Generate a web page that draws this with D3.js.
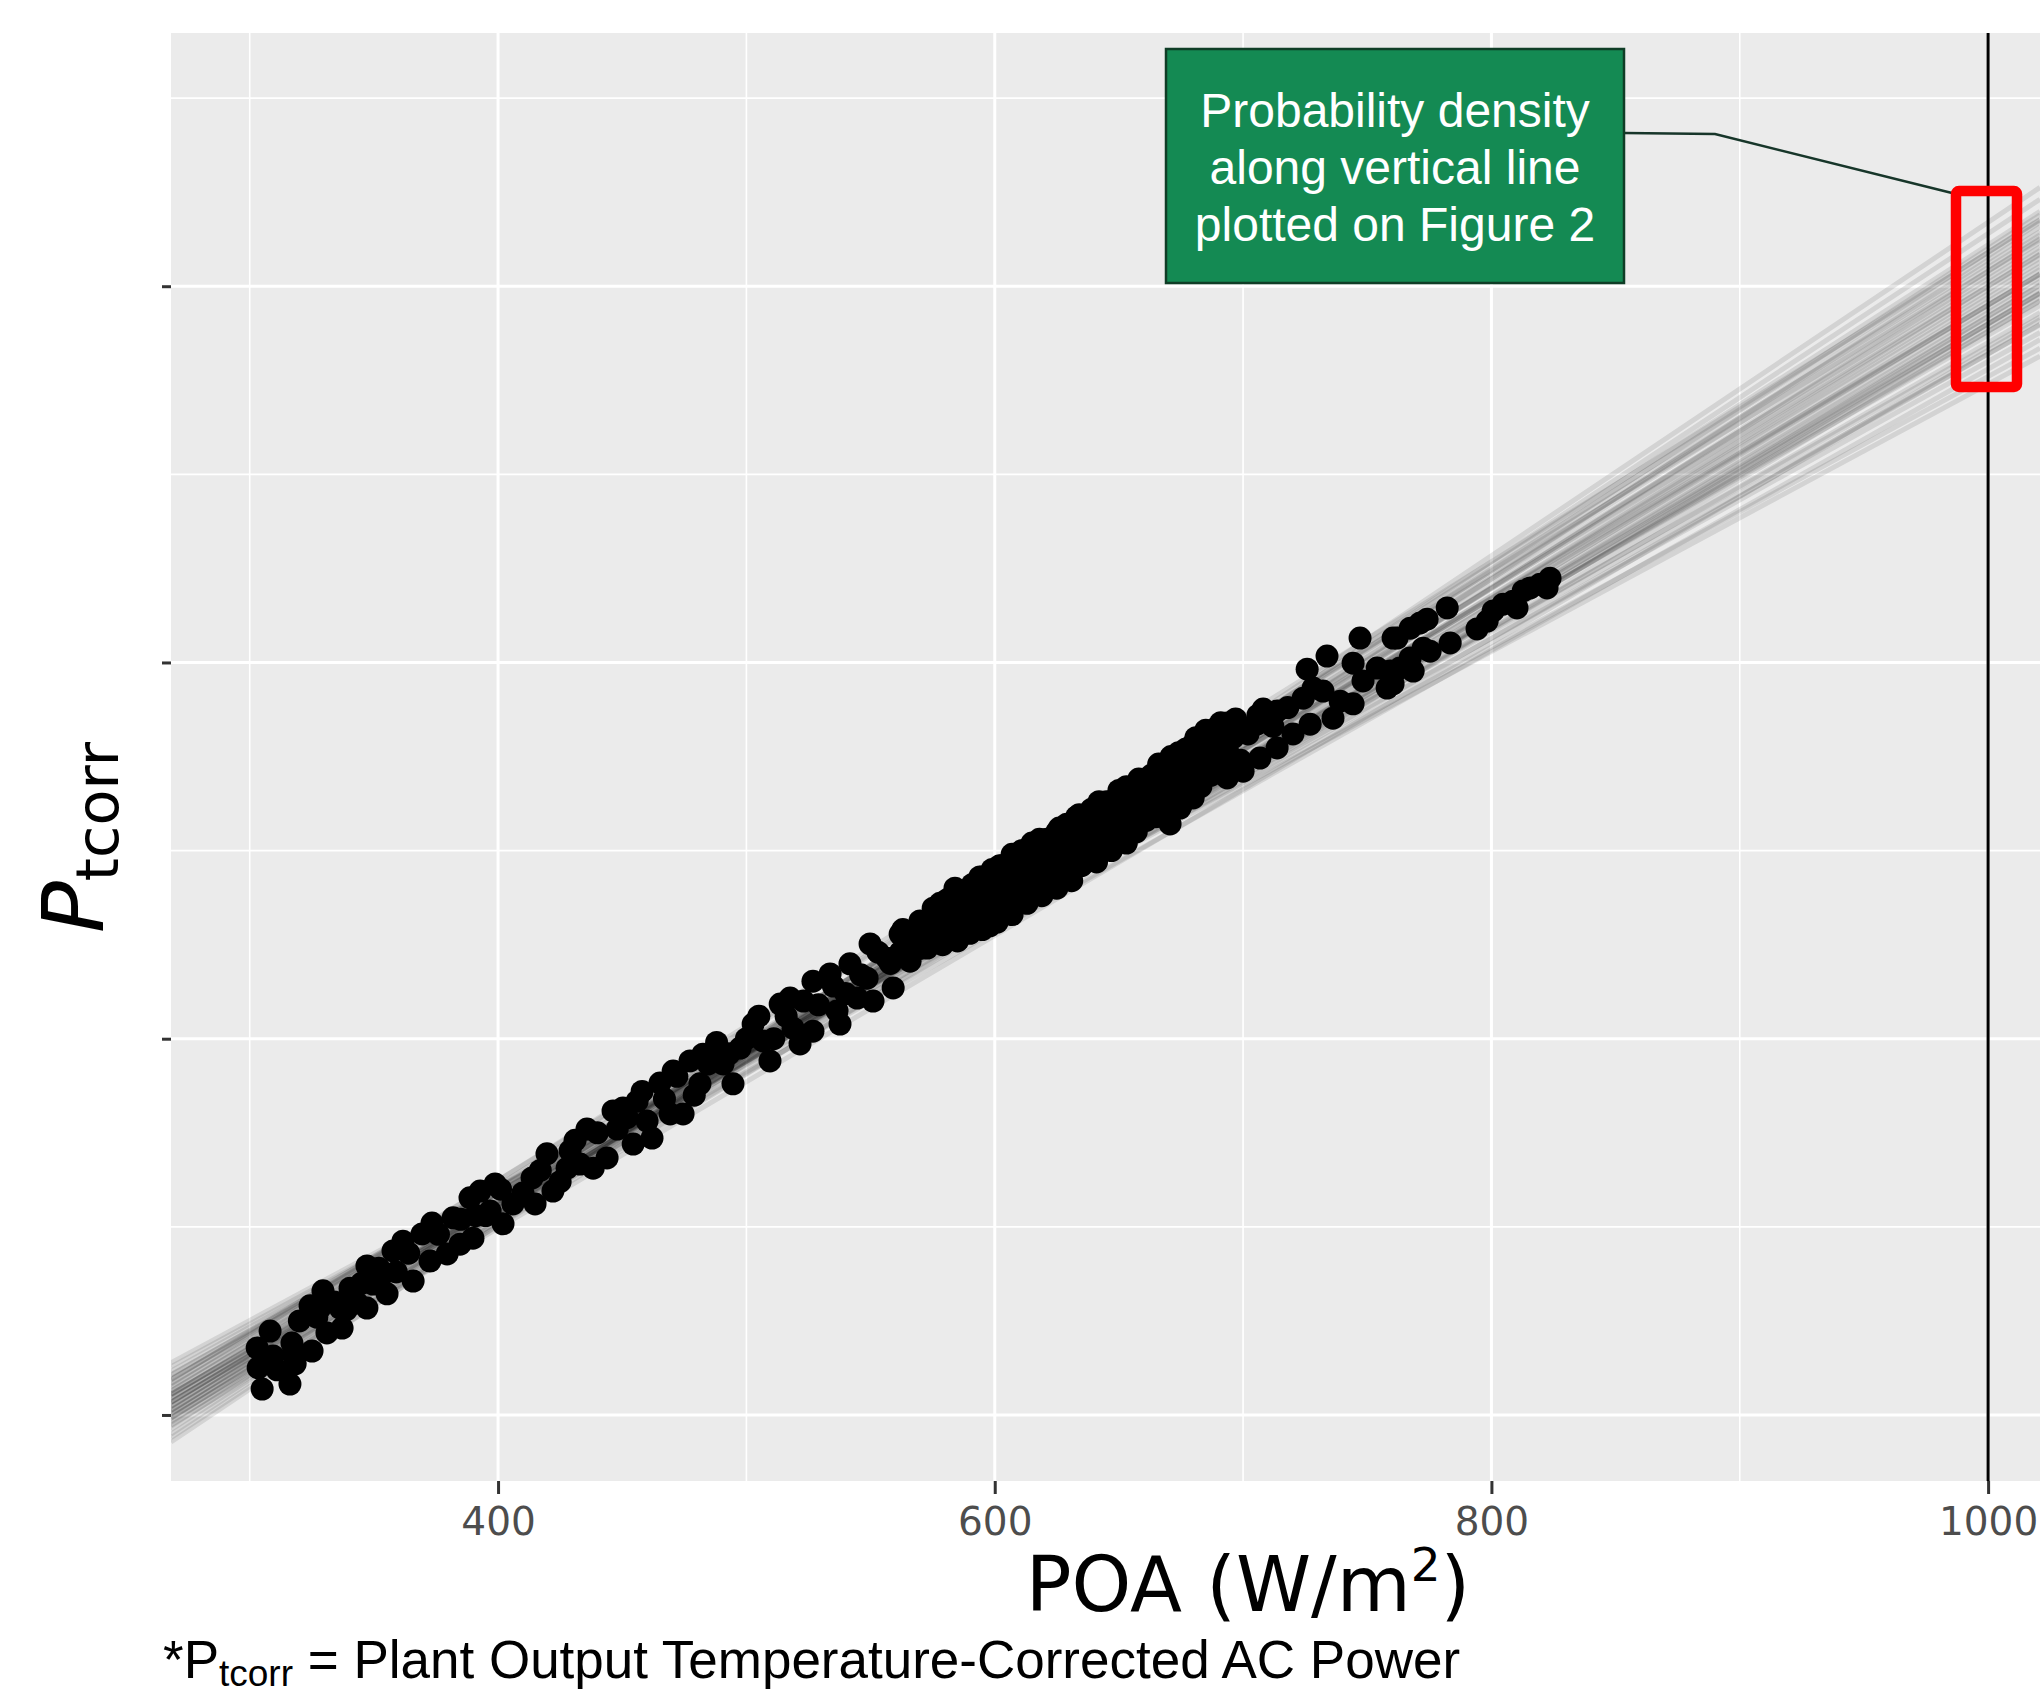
<!DOCTYPE html>
<html lang="en">
<head>
    <meta charset="utf-8">
    <title>Ptcorr vs POA</title>
    <script type="text/javascript" src="https://cdn.jsdelivr.net/npm/d3@7/dist/d3.min.js"></script>
    <style>
        body { margin: 0; background: #fff; }
    </style>
</head>
<body>
<script type="text/javascript">
    // observed points (POA in W/m2, temperature-corrected AC power, arbitrary units)
    var poaValues = [
        305.0, 303.4, 303.0, 308.2, 309.4, 317.0, 318.3, 316.2, 325.1, 324.3, 329.5, 331.1, 337.2, 340.4, 347.2,
        343.2, 349.7, 355.3, 357.7, 361.7, 365.8, 369.4, 373.4, 372.6, 379.5, 381.9, 384.7, 388.7, 389.9, 392.8,
        336.4, 347.2, 352.5, 328.3, 317.4,
        311, 320, 327, 334, 339, 345, 352, 359, 364, 376, 385, 391,
        398.8, 396.8, 402.0, 406.0, 413.7, 414.9, 419.7, 422.1, 427.8, 429.0, 435.8, 433.0, 438.3, 443.9, 446.3,
        450.3, 456.0, 454.4, 460.0, 462.0, 465.2, 470.5, 469.3, 474.5, 477.3, 482.5, 481.3, 484.6,
        395, 401, 410, 417, 425, 431, 440, 448, 452, 458, 467, 472, 479, 488, 493,
        500, 505, 511, 516, 523, 529, 535, 540, 546, 553, 558, 563, 567, 573, 576,
        486.6, 490.6, 494.6, 497.5, 502.7, 506.7, 509.5, 513.6, 517.6, 518.8, 521.6, 526.8, 526.8, 533.7, 536.5,
        537.7, 541.7, 544.6, 548.6, 549.8, 551.0, 556.6, 559.1, 561.9, 565.9, 569.9, 572.8, 575.2, 577.2,
        579, 579, 581, 581, 583, 585, 585, 587, 587, 589, 591, 591, 593, 595, 595, 597, 599, 599, 601, 601,
        603, 605, 605, 607, 607, 609, 611, 611, 613, 613, 615, 615, 617, 619, 619, 621, 621, 623, 625, 625,
        625, 627, 629, 629, 631, 631, 633, 633, 635, 637, 637, 639, 639, 641, 641, 643, 645, 645, 647, 647,
        649, 651, 651, 653, 653, 655, 657, 657, 659, 661, 661, 663, 663, 665, 667, 667, 669, 671, 671, 673,
        675, 675, 677, 679, 681, 681, 683, 685, 685, 687, 689, 691, 691, 694, 696, 699,
        562, 566, 570, 574, 578, 580, 584, 588, 592, 596, 600, 604, 608, 612, 616, 620, 624, 628, 632, 636,
        640, 644, 648, 652, 656, 660, 664, 668, 672, 676, 680, 684, 688, 692, 697, 702, 706, 712, 718,
        590, 598, 606, 614, 622, 630, 638, 646, 654, 662, 670, 678, 686, 694,
        586, 594, 602, 610, 618, 626, 634, 642, 650, 658, 666, 674, 682, 690,
        747.1, 760.4, 733.8, 725.8, 744.3, 754.0, 728.2, 724.2, 732.2, 739.1, 744.3, 748.3, 758.0, 760.4,
        708.1, 713.7, 705.6, 693.6, 697.6, 685.5, 687.9, 679.9, 674.6, 669.4, 671.8, 670.6, 679.9, 693.6,
        700.0, 706.8, 713.7, 720.1, 727.0, 736.2, 682.7, 690.7, 674.6,
        762.0, 767.3, 771.3, 774.1, 782.2, 783.4, 759.2, 763.2, 767.3, 772.5, 775.3, 768.5, 760.4, 794.2,
        798.3, 800.7, 804.7, 808.7, 810.3, 812.8, 815.6, 819.6, 823.6, 822.4
    ];
    var ptcorrValues = [
        10.69, 11.25, 11.78, 12.23, 11.57, 11.91, 11.36, 10.82, 11.70, 12.90, 13.30, 12.18, 12.31, 13.37, 13.96,
        12.98, 13.48, 13.22, 14.36, 14.62, 13.56, 14.81, 15.10, 14.09, 14.28, 15.24, 14.54, 15.77, 14.70, 15.95,
        12.84, 12.84, 13.64, 12.84, 11.62,
        11.2, 12.5, 12.6, 13.0, 12.8, 13.5, 13.9, 13.8, 14.3, 14.8, 15.2, 15.3,
        16.14, 15.42, 15.08, 15.61, 16.30, 15.61, 16.94, 15.95, 16.56, 17.02, 17.60, 16.67, 16.56, 16.83, 18.08,
        18.16, 18.34, 17.20, 17.81, 17.36, 18.82, 19.14, 18.00, 18.00, 19.41, 19.59, 18.80, 19.33,
        15.3, 16.0, 15.9, 16.5, 16.2, 17.3, 17.5, 17.6, 17.9, 18.6, 18.4, 19.0, 18.5, 19.9, 19.6,
        20.0, 20.6, 20.0, 20.6, 21.0, 20.9, 21.4, 21.2, 21.7, 22.3, 22.0, 22.9, 22.6, 23.0, 22.6,
        19.49, 19.33, 18.80, 19.75, 20.39, 19.94, 19.41, 20.92, 21.08, 20.28, 19.86, 20.20, 21.53, 21.72, 20.74,
        20.39, 21.99, 21.08, 21.61, 22.52, 21.00, 22.14, 21.35, 22.78, 22.06, 23.13, 22.41, 23.47, 23.13,
        22.5, 23.3, 23.0, 23.7, 22.7, 23.4, 22.6, 23.9, 23.1, 22.9, 23.6, 24.1, 23.2, 22.9, 24.3, 23.7, 23.3, 24.5, 24.0, 23.1,
        24.6, 23.6, 24.2, 23.3, 24.9, 24.4, 23.8, 25.0, 24.2, 23.6, 24.8, 25.2, 24.0, 24.5, 23.8, 25.3, 24.9, 24.3, 24.7, 25.5,
        24.0, 25.1, 24.5, 25.7, 24.9, 24.2, 25.4, 25.9, 24.6, 25.2, 25.8, 24.9, 26.1, 25.5, 24.7, 26.0, 25.2, 26.3, 25.7, 25.0,
        26.4, 25.5, 26.0, 25.2, 26.7, 25.9, 26.3, 25.5, 26.8, 25.8, 26.5, 26.2, 27.0, 25.9, 26.6, 27.2, 26.1, 26.9, 27.5, 26.5,
        27.2, 26.2, 27.7, 26.8, 27.3, 28.0, 26.7, 27.5, 28.2, 27.0, 27.8, 27.3, 28.4, 27.6, 28.0, 27.4,
        22.3, 22.7, 22.4, 22.9, 23.6, 23.0, 24.0, 23.5, 23.0, 24.0, 23.6, 24.3, 23.9, 24.6, 24.3, 24.9, 25.0, 24.7, 25.3, 25.5,
        25.3, 25.6, 26.0, 26.2, 26.4, 26.1, 26.6, 26.9, 27.1, 26.7, 27.5, 27.8, 27.4, 27.9, 28.5, 28.1, 28.6, 28.3, 28.8,
        22.8, 23.0, 23.4, 23.9, 24.1, 24.5, 24.8, 25.3, 25.6, 25.9, 26.4, 26.9, 27.2, 27.3,
        23.9, 24.3, 24.6, 24.95, 25.3, 25.6, 25.95, 26.3, 26.6, 26.9, 27.3, 27.6, 27.9, 28.3,
        30.65, 30.65, 30.17, 29.82, 29.98, 29.85, 29.32, 29.05, 29.24, 28.97, 28.90, 29.51, 29.32, 29.69,
        28.76, 28.71, 28.36, 28.39, 28.18, 28.18, 27.73, 27.83, 27.46, 27.30, 26.58, 25.71, 26.40, 26.93,
        27.11, 27.46, 27.73, 28.10, 28.36, 28.52, 27.30, 27.46, 26.13,
        30.65, 30.91, 31.05, 31.15, 31.45, 30.52, 29.77, 29.85, 30.12, 30.38, 30.30, 29.77, 29.43, 30.89,
        31.10, 31.37, 31.55, 31.63, 31.45, 31.90, 31.98, 32.08, 32.24, 31.98
    ];

    // posterior regression draws: predicted value at POA 280 and at POA 1000
    var drawAt280 = [10.8, 10.6, 11.0, 10.9, 10.7, 11.2, 10.4, 10.5, 11.1, 10.3, 11.4, 10.8, 10.6, 11.0, 10.2,
        11.5, 10.9, 10.7, 10.0, 11.7, 10.5, 11.1, 10.4, 11.3, 9.8, 11.8, 10.7, 11.0, 10.1, 11.4,
        10.3, 11.3, 9.9, 11.6, 10.8, 10.2, 11.4, 10.5, 11.5, 10.9, 10.4, 11.2, 10.6, 11.0, 10.8];
    var drawAt1000 = [39.5, 39.9, 39.1, 39.7, 39.3, 38.8, 40.3, 39.6, 40.0, 40.7, 38.4, 38.9, 39.4, 40.2, 41.0,
        38.0, 39.2, 39.8, 41.4, 37.6, 39.0, 39.5, 40.0, 39.0, 41.7, 37.4, 40.5, 38.5, 40.4, 39.5,
        38.3, 40.9, 40.8, 38.2, 40.1, 39.2, 40.4, 41.1, 38.7, 37.8, 38.8, 40.6, 40.9, 38.2, 39.0];

    var xMajor = [400, 600, 800, 1000];
    var xMinor = [300, 500, 700, 900];
    var yMajor = [10, 20, 30, 40];
    var yMinor = [15, 25, 35, 45];
    var markerPOA = 1000;

    var w = 2040;
    var h = 1693;
    var panelL = 171, panelR = 2040, panelT = 33, panelB = 1481;

    var svg = d3.select("body")
        .append("svg")
        .attr("width", w)
        .attr("height", h);

    var x = d3.scaleLinear().domain([268.3, 1020.9]).range([panelL, panelR]);
    var y = d3.scaleLinear().domain([8.245, 46.73]).range([panelB, panelT]);

    svg.append("rect").attr("width", w).attr("height", h).attr("fill", "#fff");

    svg.append("defs").append("clipPath").attr("id", "panel")
        .append("rect")
        .attr("x", panelL).attr("y", panelT)
        .attr("width", panelR - panelL).attr("height", panelB - panelT);

    // panel background
    svg.append("rect")
        .attr("x", panelL).attr("y", panelT)
        .attr("width", panelR - panelL).attr("height", panelB - panelT)
        .attr("fill", "#ebebeb");

    var grid = svg.append("g").attr("clip-path", "url(#panel)");

    grid.selectAll("line.xminor").data(xMinor).enter().append("line")
        .attr("x1", function(d) { return x(d); }).attr("x2", function(d) { return x(d); })
        .attr("y1", panelT).attr("y2", panelB)
        .attr("stroke", "#fff").attr("stroke-width", 1.6);
    grid.selectAll("line.yminor").data(yMinor).enter().append("line")
        .attr("y1", function(d) { return y(d); }).attr("y2", function(d) { return y(d); })
        .attr("x1", panelL).attr("x2", panelR)
        .attr("stroke", "#fff").attr("stroke-width", 1.6);
    grid.selectAll("line.xmajor").data(xMajor).enter().append("line")
        .attr("x1", function(d) { return x(d); }).attr("x2", function(d) { return x(d); })
        .attr("y1", panelT).attr("y2", panelB)
        .attr("stroke", "#fff").attr("stroke-width", 3);
    grid.selectAll("line.ymajor").data(yMajor).enter().append("line")
        .attr("y1", function(d) { return y(d); }).attr("y2", function(d) { return y(d); })
        .attr("x1", panelL).attr("x2", panelR)
        .attr("stroke", "#fff").attr("stroke-width", 3);

    // regression draws
    var xd = x.domain();
    var draws = drawAt280.map(function(v, i) {
        var f = d3.scaleLinear().domain([280, 1000]).range([v, drawAt1000[i]]);
        return [[xd[0], f(xd[0])], [xd[1], f(xd[1])]];
    });
    var line = d3.line()
        .x(function(d) { return x(d[0]); })
        .y(function(d) { return y(d[1]); });

    grid.selectAll("path.draw").data(draws).enter().append("path")
        .attr("d", line)
        .attr("fill", "none")
        .attr("stroke", "#000")
        .attr("stroke-opacity", 0.1)
        .attr("stroke-width", 5);

    // points
    grid.selectAll("circle").data(poaValues).enter().append("circle")
        .attr("cx", function(d) { return x(d); })
        .attr("cy", function(d, i) { return y(ptcorrValues[i]); })
        .attr("r", 11.5)
        .attr("fill", "#000");

    // vertical line at POA = 1000
    grid.append("line")
        .attr("x1", x(markerPOA)).attr("x2", x(markerPOA))
        .attr("y1", panelT).attr("y2", panelB)
        .attr("stroke", "#000").attr("stroke-width", 3);

    // axes
    var xAxis = svg.append("g")
        .attr("transform", "translate(0," + panelB + ")")
        .call(d3.axisBottom(x).tickValues(xMajor).tickSize(13).tickFormat(d3.format("d")));
    xAxis.select(".domain").remove();
    xAxis.selectAll(".tick line").attr("stroke", "#333").attr("stroke-width", 3);
    xAxis.selectAll(".tick text")
        .attr("y", 54).attr("dy", 0)
        .attr("fill", "#4d4d4d")
        .attr("font-family", "DejaVu Sans")
        .attr("font-size", "39px");

    var yAxis = svg.append("g")
        .attr("transform", "translate(" + panelL + ",0)")
        .call(d3.axisLeft(y).tickValues(yMajor).tickSize(9).tickFormat(""));
    yAxis.select(".domain").remove();
    yAxis.selectAll(".tick line").attr("stroke", "#333").attr("stroke-width", 3);

    // axis titles
    var xt = svg.append("text")
        .attr("x", 1248).attr("y", 1611)
        .attr("text-anchor", "middle")
        .attr("font-family", "DejaVu Sans")
        .attr("font-size", "76px")
        .attr("fill", "#000");
    xt.append("tspan").text("POA (W/m");
    xt.append("tspan").attr("font-size", "47px").attr("dy", -30).text("2");
    xt.append("tspan").attr("dy", 30).text(")");

    var yt = svg.append("text")
        .attr("transform", "translate(103,933) rotate(-90)")
        .attr("font-family", "DejaVu Sans")
        .attr("fill", "#000");
    yt.append("tspan").attr("font-size", "86px").attr("font-style", "italic").text("P");
    yt.append("tspan").attr("font-size", "59px").attr("dy", 15).text("tcorr");

    // annotation box
    svg.append("polyline")
        .attr("points", "1624,133 1715,134 1952,193")
        .attr("fill", "none")
        .attr("stroke", "#17362a")
        .attr("stroke-width", 2.5);

    svg.append("rect")
        .attr("x", 1166).attr("y", 49)
        .attr("width", 458).attr("height", 234)
        .attr("fill", "#148a53")
        .attr("stroke", "#0f3d26")
        .attr("stroke-width", 2.5);

    var boxLines = ["Probability density", "along vertical line", "plotted on Figure 2"];
    svg.selectAll("text.box").data(boxLines).enter().append("text")
        .attr("x", 1395)
        .attr("y", function(d, i) { return 127 + i * 57; })
        .attr("text-anchor", "middle")
        .attr("font-family", "Liberation Sans, Arial, sans-serif")
        .attr("font-size", "48px")
        .attr("fill", "#fff")
        .text(function(d) { return d; });

    svg.append("rect")
        .attr("x", 1956).attr("y", 191)
        .attr("width", 61).attr("height", 196)
        .attr("rx", 3)
        .attr("fill", "none")
        .attr("stroke", "#ff0000")
        .attr("stroke-width", 10.5);

    // footnote
    var fn = svg.append("text")
        .attr("x", 163).attr("y", 1678)
        .attr("font-family", "Liberation Sans, Arial, sans-serif")
        .attr("font-size", "53px")
        .attr("fill", "#000");
    fn.append("tspan").text("*P");
    fn.append("tspan").attr("font-size", "37px").attr("dy", 8).text("tcorr");
    fn.append("tspan").attr("dy", -8).text(" = Plant Output Temperature-Corrected AC Power");
</script>
</body>
</html>
